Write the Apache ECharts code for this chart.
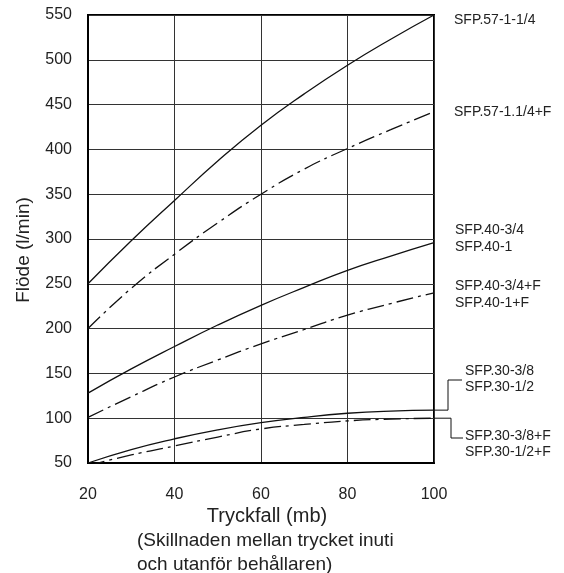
<!DOCTYPE html>
<html>
<head>
<meta charset="utf-8">
<script src="https://cdn.jsdelivr.net/npm/echarts@6/dist/echarts.min.js"></script>
<style>
html,body{margin:0;padding:0;background:#fff;}
#c{width:564px;height:573px;}
</style>
</head>
<body>
<div id="c"></div>
<script>
// ---- data ----
const pressure = [20, 30, 40, 50, 60, 70, 80, 90, 100];
const sfp57  = [250, 298, 343, 387, 427, 462, 494, 523, 550];
const sfp57F = [200, 245, 283, 318, 350, 378, 401, 422, 442];
const sfp40  = [128, 155, 180, 204, 226, 246, 265, 281, 296];
const sfp40F = [101, 124, 146, 165, 183, 199, 215, 228, 240];
const sfp30  = [50, 65, 77, 87, 95, 101, 105.5, 108, 109];
const sfp30F = [47, 59, 69, 79, 88, 93, 97, 99, 100];
const xTicks = [20, 40, 60, 80, 100];
const yTicks = [50, 100, 150, 200, 250, 300, 350, 400, 450, 500, 550];

const labels57  = ['SFP.57-1-1/4'];
const labels57F = ['SFP.57-1.1/4+F'];
const labels40  = ['SFP.40-3/4', 'SFP.40-1'];
const labels40F = ['SFP.40-3/4+F', 'SFP.40-1+F'];
const labels30  = ['SFP.30-3/8', 'SFP.30-1/2'];
const labels30F = ['SFP.30-3/8+F', 'SFP.30-1/2+F'];

const yTitle = 'Flöde (l/min)';
const xTitle = 'Tryckfall (mb)';
const xSub1 = '(Skillnaden mellan trycket inuti';
const xSub2 = 'och utanför behållaren)';

const FONT = "'Liberation Sans', Arial, sans-serif";
const dashDot = [17, 5, 3, 5];

function pts(ys) { return pressure.map((x, i) => [x, ys[i]]); }
function mk(name, ys, dashed) {
  return {
    name, type: 'line', data: pts(ys), smooth: 0.5,
    showSymbol: false, symbol: 'none', clip: true, silent: true,
    lineStyle: { color: '#111', width: 1.3, type: dashed ? dashDot : 'solid' }
  };
}

const chart = echarts.init(document.getElementById('c'), null, { renderer: 'canvas' });
const option = {
  animation: false,
  backgroundColor: '#fff',
  grid: { left: 88, right: 130, top: 15, bottom: 110, show: true, borderColor: '#000', borderWidth: 2, backgroundColor: 'transparent' },
  xAxis: {
    type: 'value', min: 20, max: 100, interval: 20,
    axisLine: { show: true, lineStyle: { color: '#000', width: 2 } },
    axisTick: { show: false },
    splitLine: { show: true, lineStyle: { color: '#333', width: 1 } },
    axisLabel: { color: '#222', fontFamily: FONT, fontSize: 16, margin: 24,
      formatter: v => xTicks.includes(v) ? String(v) : '' }
  },
  yAxis: {
    type: 'value', min: 50, max: 550, interval: 50,
    axisLine: { show: true, lineStyle: { color: '#000', width: 2 } },
    axisTick: { show: false },
    splitLine: { show: true, lineStyle: { color: '#333', width: 1 } },
    axisLabel: { color: '#222', fontFamily: FONT, fontSize: 16, margin: 16,
      formatter: v => yTicks.includes(v) ? String(v) : '' }
  },
  series: [
    mk('SFP.57', sfp57, false),
    mk('SFP.57+F', sfp57F, true),
    mk('SFP.40', sfp40, false),
    mk('SFP.40+F', sfp40F, true),
    mk('SFP.30', sfp30, false),
    mk('SFP.30+F', sfp30F, true)
  ]
};
chart.setOption(option);

function txt(text, x, y, size, extra) {
  return {
    type: 'text', x, y, silent: true,
    style: Object.assign({ text, fill: '#222', font: size + 'px ' + FONT, textVerticalAlign: 'middle', textAlign: 'left' }, extra || {})
  };
}

const last = pressure.length - 1;
const p30 = chart.convertToPixel({ gridIndex: 0 }, [pressure[last], sfp30[last]]);
const p30F = chart.convertToPixel({ gridIndex: 0 }, [pressure[last], sfp30F[last]]);

const lblSize = 14;
const graphics = [
  txt(labels57[0], 454, 20, lblSize),
  txt(labels57F[0], 454, 112, lblSize),
  txt(labels40[0], 455, 230, lblSize),
  txt(labels40[1], 455, 247, lblSize),
  txt(labels40F[0], 455, 286, lblSize),
  txt(labels40F[1], 455, 303, lblSize),
  txt(labels30[0], 465, 371, lblSize),
  txt(labels30[1], 465, 387, lblSize),
  txt(labels30F[0], 465, 436, lblSize),
  txt(labels30F[1], 465, 452, lblSize),
  { type: 'polyline', silent: true, shape: { points: [[p30[0], p30[1]], [448, p30[1]], [448, 380], [462, 380]] },
    style: { stroke: '#111', lineWidth: 1, fill: null } },
  { type: 'polyline', silent: true, shape: { points: [[p30F[0], p30F[1]], [451, p30F[1]], [451, 438], [463, 438]] },
    style: { stroke: '#111', lineWidth: 1, fill: null } },
  { type: 'text', x: 24, y: 250, rotation: Math.PI / 2, silent: true,
    style: { text: yTitle, fill: '#222', font: '19px ' + FONT, textAlign: 'center', textVerticalAlign: 'middle' } },
  txt(xTitle, 267, 516, 20, { textAlign: 'center' }),
  txt(xSub1, 137, 541, 19),
  txt(xSub2, 137, 565, 19)
];
chart.setOption({ graphic: graphics });
</script>
</body>
</html>
